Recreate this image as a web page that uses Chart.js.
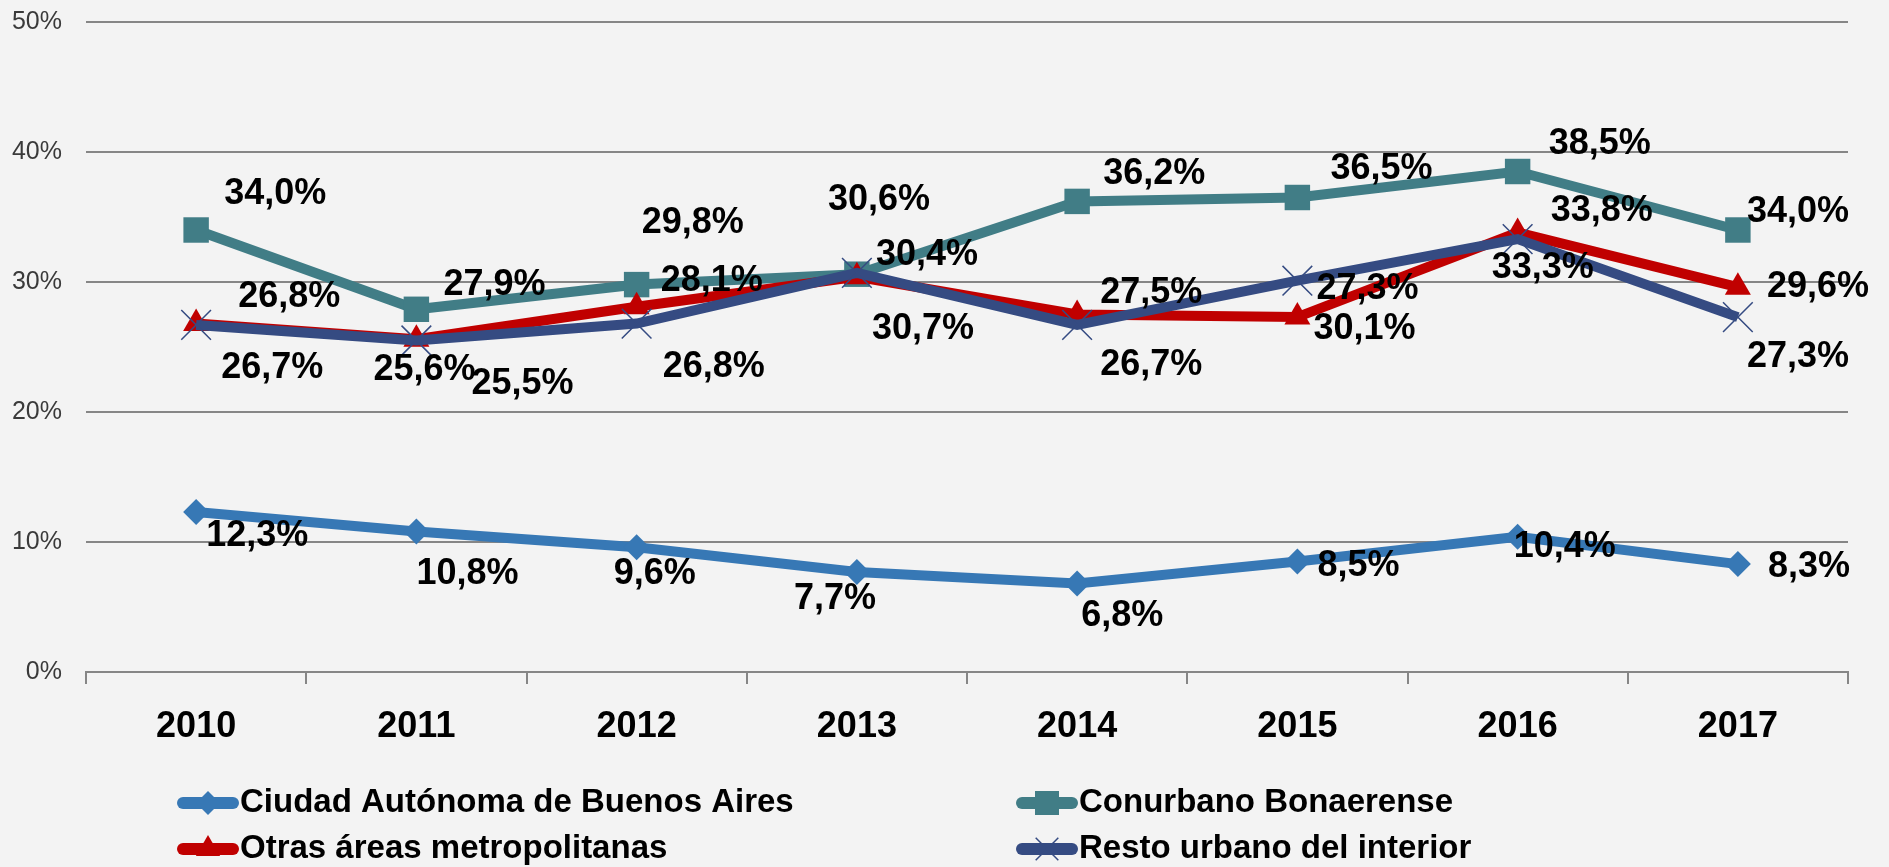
<!DOCTYPE html>
<html>
<head>
<meta charset="utf-8">
<script src="https://cdn.jsdelivr.net/npm/chart.js@4.4.0/dist/chart.umd.min.js"></script>
<style>
  html, body { margin: 0; padding: 0; background: #f3f3f3; }
  #wrap { width: 1889px; height: 867px; }
</style>
</head>
<body>
<div id="wrap"><canvas id="chart" width="1889" height="867"></canvas></div>
<script>
const years = ['2010','2011','2012','2013','2014','2015','2016','2017'];
const caba = [12.3, 10.8, 9.6, 7.7, 6.8, 8.5, 10.4, 8.3];
const conurbano = [34.0, 27.9, 29.8, 30.6, 36.2, 36.5, 38.5, 34.0];
const otras = [26.8, 25.6, 28.1, 30.4, 27.5, 27.3, 33.8, 29.6];
const resto = [26.7, 25.5, 26.8, 30.7, 26.7, 30.1, 33.3, 27.3];
const yTicks = [0, 10, 20, 30, 40, 50];

// label placement (left edge / vertical centre relative to the point), in px
const labelOffsets = [
  [[10,24],[0,42],[-23,27],[-63,27],[4,32],[20,5],[-4,10],[30,3]],
  [[28,-36],[27,-24],[5,-62],[-29,-74],[26,-27],[33,-28],[31,-27],[9,-18]],
  [[42,-27],[-43,31],[24,-26],[19,-22],[23,-21],[19,-28],[33,-22],[29,0]],
  [[25,43],[55,44],[26,43],[15,56],[23,40],[16,48],[-26,29],[9,40]]
];

const ctx = document.getElementById('chart').getContext('2d');

const valueLabels = {
  id: 'valueLabels',
  afterDatasetsDraw(chart) {
    const c = chart.ctx;
    c.save();
    c.font = 'bold 36px "Liberation Sans"';
    c.fillStyle = '#000';
    c.textBaseline = 'middle';
    c.textAlign = 'left';
    chart.data.datasets.forEach((ds, i) => {
      const meta = chart.getDatasetMeta(i);
      meta.data.forEach((pt, j) => {
        const off = labelOffsets[i][j];
        const txt = ds.data[j].toFixed(1).replace('.', ',') + '%';
        c.fillText(txt, pt.x + off[0], pt.y + off[1]);
      });
    });
    c.restore();
  }
};

const bottomLegend = {
  id: 'bottomLegend',
  afterDraw(chart) {
    const c = chart.ctx;
    const cols = [178, 1017];
    const rows = [803, 849];
    c.save();
    chart.data.datasets.forEach((ds, i) => {
      const x = cols[i % 2];
      const y = rows[Math.floor(i / 2)];
      c.strokeStyle = ds.borderColor;
      c.lineWidth = 12;
      c.lineCap = 'round';
      c.beginPath();
      c.moveTo(x + 5, y);
      c.lineTo(x + 55, y);
      c.stroke();
      c.lineCap = 'butt';
      c.fillStyle = ds.pointBackgroundColor;
      c.strokeStyle = ds.pointBorderColor;
      c.lineWidth = ds.pointBorderWidth;
      Chart.helpers.drawPoint(c, {
        pointStyle: ds.pointStyle,
        radius: ds.legendRadius,
        rotation: 0,
        borderWidth: ds.pointBorderWidth
      }, x + 30, y);
      c.fillStyle = '#000';
      c.font = 'bold 33px "Liberation Sans"';
      c.textBaseline = 'middle';
      c.fillText(ds.label, x + 62, y);
    });
    c.restore();
  }
};

const myChart = new Chart(ctx, {
  type: 'line',
  data: {
    labels: years,
    datasets: [
      {
        label: 'Ciudad Autónoma de Buenos Aires',
        data: caba,
        borderColor: '#3778b5',
        backgroundColor: '#3778b5',
        pointBackgroundColor: '#3778b5',
        pointBorderColor: '#3778b5',
        pointBorderWidth: 0,
        borderWidth: 10,
        pointStyle: 'rectRot',
        pointRadius: 13,
        legendRadius: 12,
        order: 3
      },
      {
        label: 'Conurbano Bonaerense',
        data: conurbano,
        borderColor: '#417d86',
        backgroundColor: '#417d86',
        pointBackgroundColor: '#417d86',
        pointBorderColor: '#417d86',
        pointBorderWidth: 0,
        borderWidth: 10,
        pointStyle: 'rect',
        pointRadius: 18,
        legendRadius: 17,
        order: 2
      },
      {
        label: 'Otras áreas metropolitanas',
        data: otras,
        borderColor: '#c00000',
        backgroundColor: '#c00000',
        pointBackgroundColor: '#c00000',
        pointBorderColor: '#c00000',
        pointBorderWidth: 0,
        borderWidth: 10,
        pointStyle: 'triangle',
        pointRadius: 15,
        legendRadius: 14,
        order: 1
      },
      {
        label: 'Resto urbano del interior',
        data: resto,
        borderColor: '#354b82',
        backgroundColor: '#354b82',
        pointBackgroundColor: '#354b82',
        pointBorderColor: '#354b82',
        pointBorderWidth: 1.5,
        borderWidth: 10,
        pointStyle: 'crossRot',
        pointRadius: 21,
        legendRadius: 16,
        order: 0
      }
    ]
  },
  options: {
    responsive: false,
    animation: false,
    layout: { autoPadding: false, padding: { top: 22, right: 41, left: 0, bottom: 0 } },
    plugins: {
      legend: { display: false },
      tooltip: { enabled: false }
    },
    scales: {
      x: {
        offset: true,
        grid: {
          offset: true,
          drawOnChartArea: false,
          drawTicks: true,
          tickLength: 12,
          color: '#868686',
          lineWidth: 2
        },
        border: { display: true, color: '#868686', width: 2 },
        ticks: {
          padding: 21,
          color: '#000',
          font: { family: '"Liberation Sans"', size: 36, weight: 'bold' }
        },
        afterFit(scale) { scale.height = 195; }
      },
      y: {
        min: 0,
        max: 50,
        afterBuildTicks(scale) { scale.ticks = yTicks.map(v => ({ value: v })); },
        grid: { color: '#868686', lineWidth: 2, drawTicks: false },
        border: { display: false },
        ticks: {
          padding: 24,
          color: '#3a3a3a',
          font: { family: '"Liberation Sans"', size: 25 },
          callback: v => v + '%'
        },
        afterFit(scale) {
          scale.width = 86;
          scale.paddingTop = 0;
          scale.paddingBottom = 0;
        }
      }
    }
  },
  plugins: [valueLabels, bottomLegend]
});
</script>
</body>
</html>
